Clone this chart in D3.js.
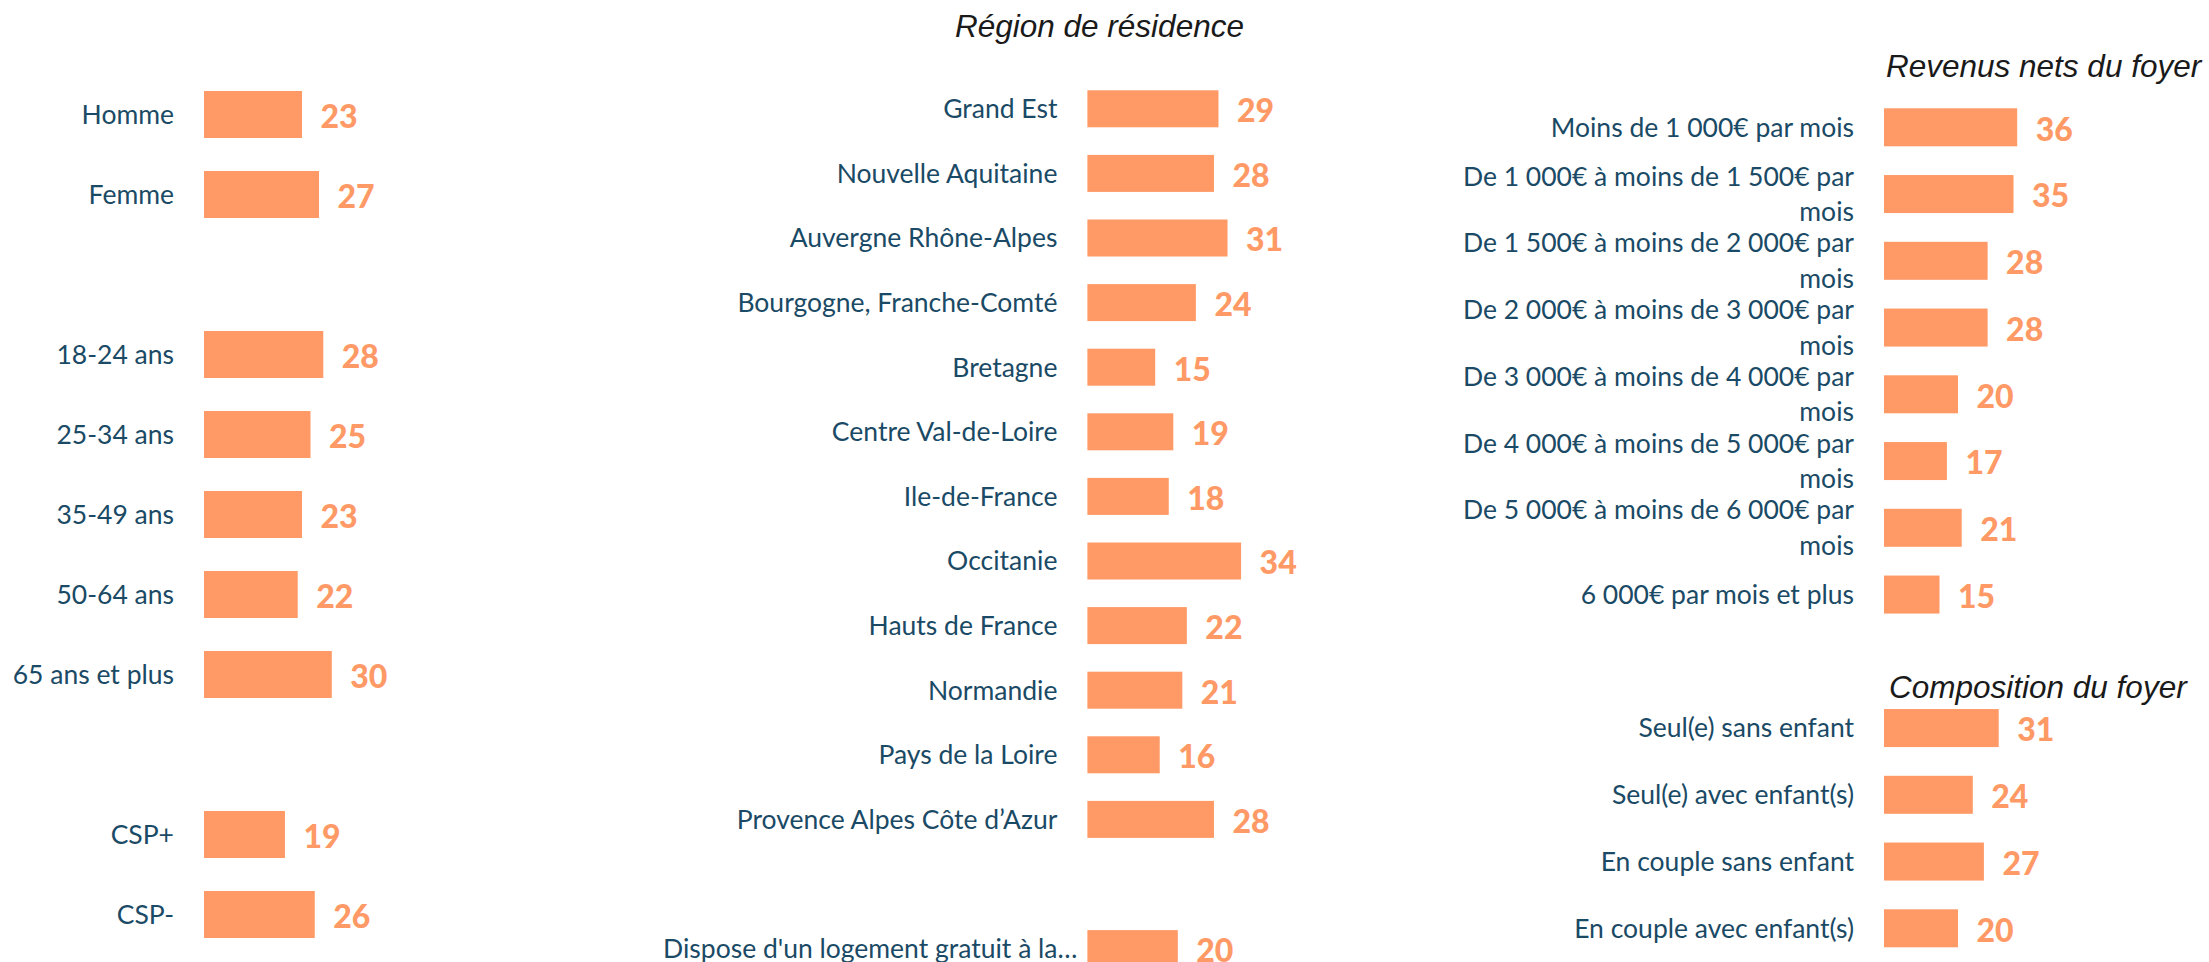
<html>
<head>
  <script src="https://d3js.org/d3.v7.min.js"></script>
  <style>
    body { margin: 0; background: #fff; }
  </style>
</head>
<body>
  <svg id="chart" width="2209" height="962"></svg>
  <script>

    // --- data ---
    const genreLabels = ["Homme", "Femme"];
    const genreValues = [23, 27];
    const ageLabels = ["18-24 ans", "25-34 ans", "35-49 ans", "50-64 ans", "65 ans et plus"];
    const ageValues = [28, 25, 23, 22, 30];
    const cspLabels = ["CSP+", "CSP-"];
    const cspValues = [19, 26];

    const regionLabels = ["Grand Est", "Nouvelle Aquitaine", "Auvergne Rhône-Alpes", "Bourgogne, Franche-Comté",
      "Bretagne", "Centre Val-de-Loire", "Ile-de-France", "Occitanie", "Hauts de France", "Normandie",
      "Pays de la Loire", "Provence Alpes Côte d’Azur"];
    const regionValues = [29, 28, 31, 24, 15, 19, 18, 34, 22, 21, 16, 28];
    const logementLabels = ["Dispose d'un logement gratuit à la…"];
    const logementValues = [20];

    const revenuLabels = ["Moins de 1 000€ par mois", "De 1 000€ à moins de 1 500€ par mois",
      "De 1 500€ à moins de 2 000€ par mois", "De 2 000€ à moins de 3 000€ par mois",
      "De 3 000€ à moins de 4 000€ par mois", "De 4 000€ à moins de 5 000€ par mois",
      "De 5 000€ à moins de 6 000€ par mois", "6 000€ par mois et plus"];
    const revenuValues = [36, 35, 28, 28, 20, 17, 21, 15];
    const foyerLabels = ["Seul(e) sans enfant", "Seul(e) avec enfant(s)", "En couple sans enfant", "En couple avec enfant(s)"];
    const foyerValues = [31, 24, 27, 20];

    const barColor = "#FF9966";
    const textColor = "#1A4A65";

    const svg = d3.select("#chart");

    // join label/value lists with empty rows between groups
    function rows(groups) {
      let out = [];
      groups.forEach((g, gi) => {
        if (gi > 0) out.push({ label: null, value: null });
        g[0].forEach((l, i) => out.push({ label: l, value: g[1][i] }));
      });
      return out;
    }

    function panel(data, opt) {
      const g = svg.append("g");
      const n = data.length;
      const y = d3.scaleBand()
        .domain(d3.range(n))
        .range([opt.c0 - opt.step / 2, opt.c0 - opt.step / 2 + n * opt.step])
        .paddingInner(1 - opt.bar / opt.step)
        .paddingOuter((1 - opt.bar / opt.step) / 2);
      const x = d3.scaleLinear().domain([0, 40]).range([opt.x0, opt.x0 + opt.k * 40]);

      const rowsData = data.map((d, i) => ({ ...d, i })).filter(d => d.value !== null);

      g.selectAll("rect").data(rowsData)
        .join("rect")
        .attr("x", x(0))
        .attr("y", d => y(d.i))
        .attr("width", d => x(d.value) - x(0))
        .attr("height", y.bandwidth())
        .attr("fill", barColor);

      g.selectAll(".val").data(rowsData)
        .join("text")
        .attr("class", "val")
        .attr("x", d => x(d.value) + 18.5)
        .attr("y", d => y(d.i) + y.bandwidth() / 2)
        .attr("dy", "0.42em")
        .attr("font-family", "Lato")
        .attr("font-weight", "900")
        .attr("font-size", "32px")
        .attr("fill", barColor)
        .text(d => d.value);

      const labels = g.selectAll(".lab").data(rowsData)
        .join("text")
        .attr("class", "lab")
        .attr("text-anchor", "end")
        .attr("x", d => d.label.endsWith("…") ? x(0) - 10 : x(0) - 30)
        .attr("font-family", "Lato")
        .attr("font-size", "26.5px")
        .attr("fill", textColor);

      // greedy wrap on words, lines centred on the bar
      labels.each(function (d) {
        const t = d3.select(this);
        const words = d.label.split(" ");
        let lines = [], cur = "";
        words.forEach(w => {
          const test = cur ? cur + " " + w : w;
          t.text(test);
          if (opt.wrap && this.getComputedTextLength() > opt.wrap && cur) {
            lines.push(cur);
            cur = w;
          } else cur = test;
        });
        lines.push(cur);
        t.text(null);
        const cy = y(d.i) + y.bandwidth() / 2;
        const lh = 35.3;
        lines.forEach((l, li) => {
          t.append("tspan")
            .attr("x", t.attr("x"))
            .attr("y", cy + 9.3 - (lines.length - 1) * lh / 2 + li * lh)
            .text(l);
        });
      });
      return y;
    }

    function title(txt, x, y) {
      svg.append("text")
        .attr("x", x)
        .attr("y", y)
        .attr("font-family", "Liberation Sans, Arial")
        .attr("font-style", "italic")
        .attr("font-size", "31.5px")
        .attr("fill", "#1a1a1a")
        .text(txt);
    }

    panel(rows([[genreLabels, genreValues], [ageLabels, ageValues], [cspLabels, cspValues]]),
      { x0: 204, k: 4.26, c0: 114.5, step: 80, bar: 47 });

    panel(rows([[regionLabels, regionValues], [logementLabels, logementValues]]),
      { x0: 1087.4, k: 4.52, c0: 108.8, step: 64.6, bar: 37 });

    panel(rows([[revenuLabels, revenuValues], [foyerLabels, foyerValues]]),
      { x0: 1884, k: 3.7, c0: 127.3, step: 66.75, bar: 38, wrap: 405 });

    title("Région de résidence", 955, 37);
    title("Revenus nets du foyer", 1886, 77);
    title("Composition du foyer", 1889, 698);

  </script>
</body>
</html>
